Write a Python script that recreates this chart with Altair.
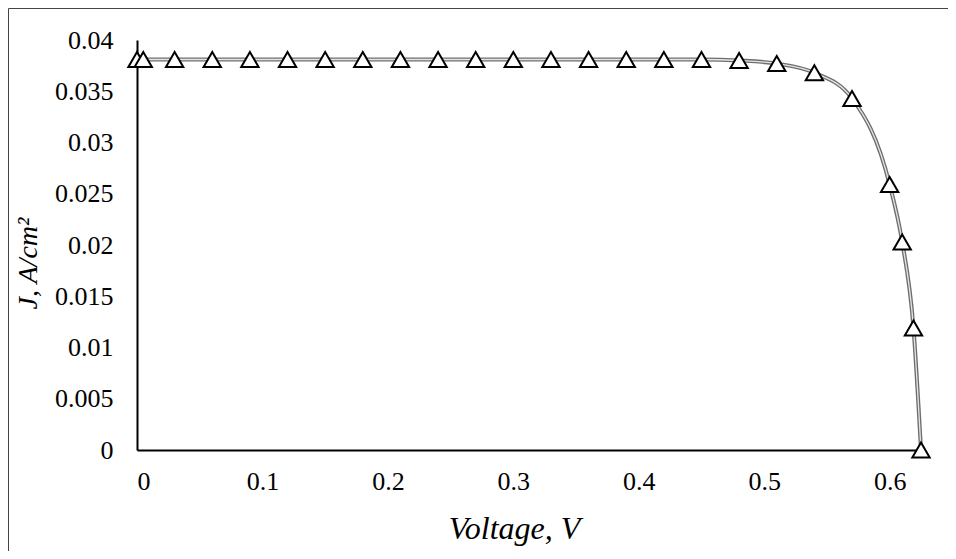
import altair as alt
import pandas as pd

voltage = [0.0, 0.005, 0.03, 0.06, 0.09, 0.12, 0.15, 0.18, 0.21, 0.24, 0.27,
           0.30, 0.33, 0.36, 0.39, 0.42, 0.45, 0.48, 0.51, 0.54, 0.57, 0.60,
           0.61, 0.619, 0.625]
current = [0.0381, 0.0381, 0.0381, 0.0381, 0.0381, 0.0381, 0.0381, 0.0381,
           0.0381, 0.0381, 0.0381, 0.0381, 0.0381, 0.0381, 0.0381, 0.0381,
           0.0381, 0.0380, 0.0377, 0.0368, 0.0343, 0.0259, 0.0203, 0.0119,
           0.0]

x_ticks = [0, 0.1, 0.2, 0.3, 0.4, 0.5, 0.6]
y_ticks = [0, 0.005, 0.01, 0.015, 0.02, 0.025, 0.03, 0.035, 0.04]

df = pd.DataFrame({"V": voltage, "J": current})

FONT = "Liberation Serif"

x = alt.X("V:Q", scale=alt.Scale(domain=[0, 0.625], nice=False, zero=False),
          axis=alt.Axis(values=x_ticks, format="~g", title="Voltage, V",
                        titleFontStyle="italic", titleFontWeight="normal",
                        titleFontSize=32,
                        titleX=377, titleY=88, titleBaseline="alphabetic",
                        titleAlign="center", labelPadding=18))
y = alt.Y("J:Q", scale=alt.Scale(domain=[0, 0.04], nice=False),
          axis=alt.Axis(values=y_ticks, format="~g", title="J,  A/cm²",
                        titleFontStyle="italic", titleFontWeight="normal",
                        titleFontSize=28,
                        titleX=-101, titleY=223, titleBaseline="alphabetic",
                        titleAlign="center", labelPadding=24))

outer = alt.Chart(df).mark_line(color="#6e6e6e", strokeWidth=4,
                                interpolate="monotone").encode(x=x, y=y)
inner = alt.Chart(df).mark_line(color="#e6e6e6", strokeWidth=1.3,
                                interpolate="monotone").encode(x="V:Q", y="J:Q")
pts = alt.Chart(df).mark_point(shape="triangle-up", size=300, filled=True,
                               fill="white", stroke="black", strokeWidth=2,
                               opacity=1).encode(x="V:Q", y="J:Q")

frame = alt.Chart(alt.Data(values=[{}])).mark_rect(
    fill=None, stroke="#444444", strokeWidth=1).encode(
    x=alt.value(-128.5), x2=alt.value(3000),
    y=alt.value(-31.5), y2=alt.value(3000))

chart = alt.layer(frame, outer, inner, pts).properties(
    width=784, height=410,
    padding={"left": 129, "top": 32, "right": 27, "bottom": 101},
    autosize=alt.AutoSizeParams(type="none"),
).configure_view(stroke=None).configure_axis(
    domainColor="black", domainWidth=2, ticks=False, grid=False,
    labelFont=FONT, labelFontSize=26, labelColor="black",
    titleFont=FONT, titleColor="black",
)

chart.save("out.html", embed_options={"renderer": "svg", "actions": False})
